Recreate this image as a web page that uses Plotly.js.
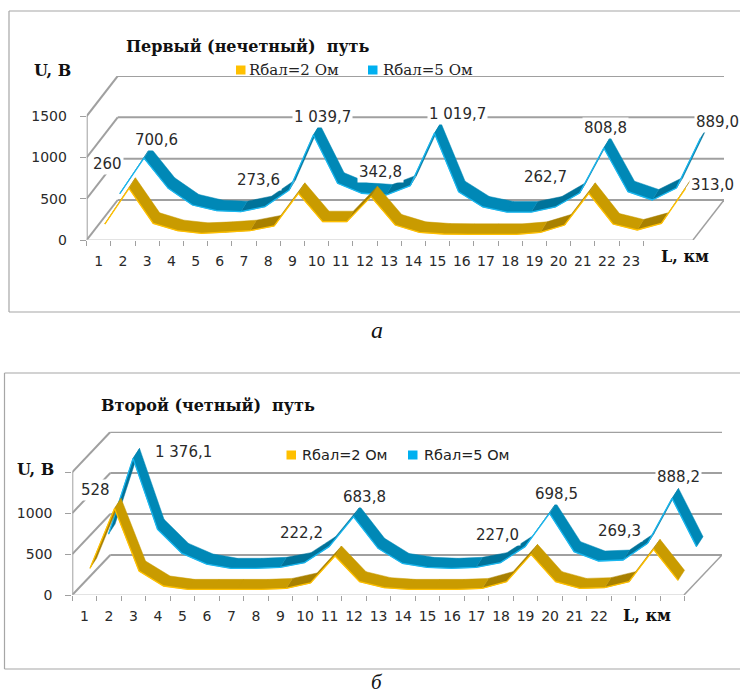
<!DOCTYPE html>
<html><head><meta charset="utf-8">
<script src="https://cdn.plot.ly/plotly-3.0.1.min.js"></script>
<style>html,body{margin:0;padding:0;background:#fff}#c{width:740px;height:694px}</style>
</head><body><div id="c"></div>
<script>
// ---- data ----
const positions = [1,2,3,4,5,6,7,8,9,10,11,12,13,14,15,16,17,18,19,20,21,22,23,24,25];
const firstTrack2Ohm = [145,577,153,65,32,44,65,121,516,173,173,476,133,44,24,20,20,20,44,133,516,145,73,153,577];
const firstTrack5Ohm = [270,700,335,133,64,52,113,315,980,396,275,254,367,1000,294,109,48,48,109,278,823,294,194,339,944];
const secondTrack2Ohm = [277,1008,244,61,20,20,20,20,32,98,427,113,41,20,20,20,32,114,447,114,32,41,114,508,130];
const secondTrack5Ohm = [450,1374,508,215,85,33,33,45,102,297,662,277,92,45,33,45,102,297,703,236,122,134,337,886,297];
const firstTickLabels = ['1','2','3','4','5','6','7','8','9','10','11','12','13','14','15','16','17','18','19','20','21','22','23'];
const secondTickLabels = ['1','2','3','4','5','6','7','8','9','10','11','12','13','14','15','16','17','18','19','20','21','22'];
const firstValueLabels = ['260','700,6','1 039,7','273,6','342,8','1 019,7','262,7','808,8','889,0','313,0'];
const secondValueLabels = ['528','1 376,1','683,8','222,2','227,0','698,5','269,3','888,2'];
const seriesNames = ['Rбал=2 Ом','Rбал=5 Ом'];
const titles = ['Первый (нечетный)  путь','Второй (четный)  путь'];

// ---- layout (pixels of the 740x694 page) ----
const W=740,H=694;
const px=x=>x/W, py=y=>1-y/H;
const firstLabelAt=[[107,164],[156,140],[322,117],[258,180],[380,172],[457,114],[545,177],[605,128],[717,122],[712,185]];
const secondLabelAt=[[95,490],[183,452],[364,497],[301,533],[497,535],[556,494],[619,531],[678,477]];
const serif='"DejaVu Serif", serif', roman='"Liberation Serif", serif', sans='"DejaVu Sans", sans-serif';
const GRID='#a0a0a0', TXT='#2a2a2a';

const charts=[
 {ax:'',left:86.7,right:724,base:240,top:76,catW:24.2,vPx:12.1,depth:[31,40],nTicks:23,
  labels:firstTickLabels,yt:['0','500','1000','1500'],
  s:[{v:firstTrack5Ohm,off:[21,24],rib:[6.5,10.5],face:'#0088b6',dark:'#00739a',edge:'#19b7ef'},
     {v:firstTrack2Ohm,off:[6,4],rib:[6.5,10.5],face:'#c99b00',dark:'#a88000',edge:'#ffc000'}]},
 {ax:'2',left:72.3,right:722,base:595,top:431.7,catW:24.5,vPx:12.2,depth:[38,40],nTicks:25,
  labels:secondTickLabels,yt:['0','500','1000',''],
  s:[{v:secondTrack5Ohm,off:[24,24],rib:[6.5,10],face:'#0088b6',dark:'#00739a',edge:'#19b7ef'},
     {v:secondTrack2Ohm,off:[5.5,4],rib:[6.5,10],face:'#c99b00',dark:'#a88000',edge:'#ffc000'}]}
];

const traces=[], shapes=[], annotations=[];
const layout={width:W,height:H,margin:{l:0,r:0,t:0,b:0},paper_bgcolor:'#fff',plot_bgcolor:'rgba(0,0,0,0)',showlegend:false,shapes,annotations};

charts.forEach(c=>{
  const xa='x'+c.ax, ya='y'+c.ax;
  const xMax=0.5+(c.right-c.left)/c.catW, yMax=(c.base-c.top)*c.vPx;
  const dx=c.depth[0]/c.catW, dy=c.depth[1]*c.vPx;
  const bounds=[]; for(let i=0;i<=c.nTicks;i++) bounds.push(i+0.5);
  layout['xaxis'+c.ax]={domain:[px(c.left),px(c.right)],range:[0.5,xMax],anchor:ya,showgrid:false,zeroline:false,showline:false,
    tickmode:'array',tickvals:c.labels.map((_,i)=>i+1),ticktext:c.labels,ticks:'',ticklabelstandoff:11,
    tickfont:{family:sans,size:14,color:TXT},
    minor:{tickmode:'array',tickvals:bounds,ticks:'outside',ticklen:5,tickcolor:GRID,tickwidth:1,showgrid:false}};
  layout['yaxis'+c.ax]={domain:[py(c.base),py(c.top)],range:[0,yMax],anchor:xa,showgrid:false,zeroline:false,showline:false,
    tickmode:'array',tickvals:[0,500,1000,1500],ticktext:c.yt,ticks:'outside',ticklen:6,tickcolor:GRID,ticklabelstandoff:10,
    tickfont:{family:sans,size:14,color:TXT}};
  const ln=(x0,y0,x1,y1,w,col)=>shapes.push({type:'line',xref:xa,yref:ya,x0,y0,x1,y1,line:{color:col||GRID,width:w||2},layer:'below'});
  [0,500,1000,1500].forEach(v=>{
    ln(0.5,v,0.5+dx,v+dy);              // left wall
    ln(0.5+dx,v+dy,xMax,v+dy);          // back wall
  });
  ln(0.5,0,0.5,1500);                   // value axis
  ln(0.5,0,xMax-dx,0,1.2,'#c8c8c8');    // front of floor
  ln(xMax-dx,0,xMax,dy,1.5);            // right of floor

  c.s.forEach(s=>{
    const ox=s.off[0]/c.catW, oy=s.off[1]*c.vPx, rx=s.rib[0]/c.catW, ry=s.rib[1]*c.vPx;
    const X=positions.map(p=>p+ox), Y=s.v.map(v=>v+oy);
    const rise={x:[],y:[]}, fall={x:[],y:[]};
    for(let i=0;i<X.length-1;i++){
      const t=Y[i+1]-Y[i]>50?rise:fall;   // top face shows darker on real rises only
      t.x.push(X[i],X[i+1],X[i+1]+rx,X[i]+rx,X[i],null);
      t.y.push(Y[i],Y[i+1],Y[i+1]+ry,Y[i]+ry,Y[i],null);
    }
    const base={xaxis:xa,yaxis:ya,mode:'lines',fill:'toself',hoverinfo:'skip'};
    traces.push(Object.assign({},base,{x:rise.x,y:rise.y,fillcolor:s.dark,line:{width:0.5,color:s.dark}}));
    traces.push(Object.assign({},base,{x:fall.x,y:fall.y,fillcolor:s.face,line:{width:0.5,color:s.face}}));
    traces.push({xaxis:xa,yaxis:ya,mode:'lines',x:X,y:Y,line:{color:s.edge,width:1.3},hoverinfo:'skip'});
  });
});

// value labels
const note=(text,x,y,o)=>annotations.push(Object.assign({text,xref:'paper',yref:'paper',x:px(x),y:py(y),xanchor:'center',yanchor:'middle',showarrow:false,font:{family:sans,size:15,color:TXT}},o||{}));
firstValueLabels.forEach((t,i)=>note(t,firstLabelAt[i][0],firstLabelAt[i][1],{bgcolor:'#fff',borderpad:1}));
secondValueLabels.forEach((t,i)=>note(t,secondLabelAt[i][0],secondLabelAt[i][1],{bgcolor:'#fff',borderpad:1}));

// titles, axis names, captions
const bold=s=>'<b>'+s+'</b>';
const dark='#111';
note(bold(titles[0]),248,47,{font:{family:serif,size:16,color:dark}});
note(bold(titles[1]),208,405,{font:{family:serif,size:16,color:dark}});
note(bold('U, В'),52,70,{font:{family:serif,size:16,color:dark}});
note(bold('U, В'),35,469,{font:{family:serif,size:16,color:dark}});
note(bold('L, км'),685,257,{font:{family:serif,size:16,color:dark}});
note(bold('L, км'),647,615,{font:{family:serif,size:16,color:dark}});
note('<i>а</i>',377,330,{font:{family:roman,size:24,color:dark}});
note('<i>б</i>',377,682,{font:{family:roman,size:21,color:dark}});

// legends
const swatch=(x,y,col)=>shapes.push({type:'rect',xref:'paper',yref:'paper',x0:px(x),x1:px(x+9.5),y0:py(y+4.5),y1:py(y-4.5),fillcolor:col,line:{width:0}});
const legendText=(t,x,y,f)=>note(t,x,y,{xanchor:'left',font:f});
const fTop={family:serif,size:15,color:'#222'}, fBot={family:sans,size:14.5,color:'#222'};
swatch(236,70,'#ffc000'); legendText(seriesNames[0],247,70,fTop);
swatch(368,70,'#00b0f0'); legendText(seriesNames[1],381,70,fTop);
swatch(286.5,455,'#ffc000'); legendText(seriesNames[0],300,455,fBot);
swatch(408,455,'#00b0f0'); legendText(seriesNames[1],422,455,fBot);

// panel frames
const frame=(x0,y0,y1)=>{
  [[x0,y0,740,y0],[x0,y1,740,y1],[x0,y0,x0,y1]].forEach(l=>shapes.push({type:'line',xref:'paper',yref:'paper',x0:px(l[0]),y0:py(l[1]),x1:px(l[2]),y1:py(l[3]),line:{color:'#a6a6a6',width:1.2}}));
};
frame(9,11,312);
frame(4.5,373,669);

Plotly.newPlot('c',traces,layout,{staticPlot:true,displayModeBar:false});
</script></body></html>
